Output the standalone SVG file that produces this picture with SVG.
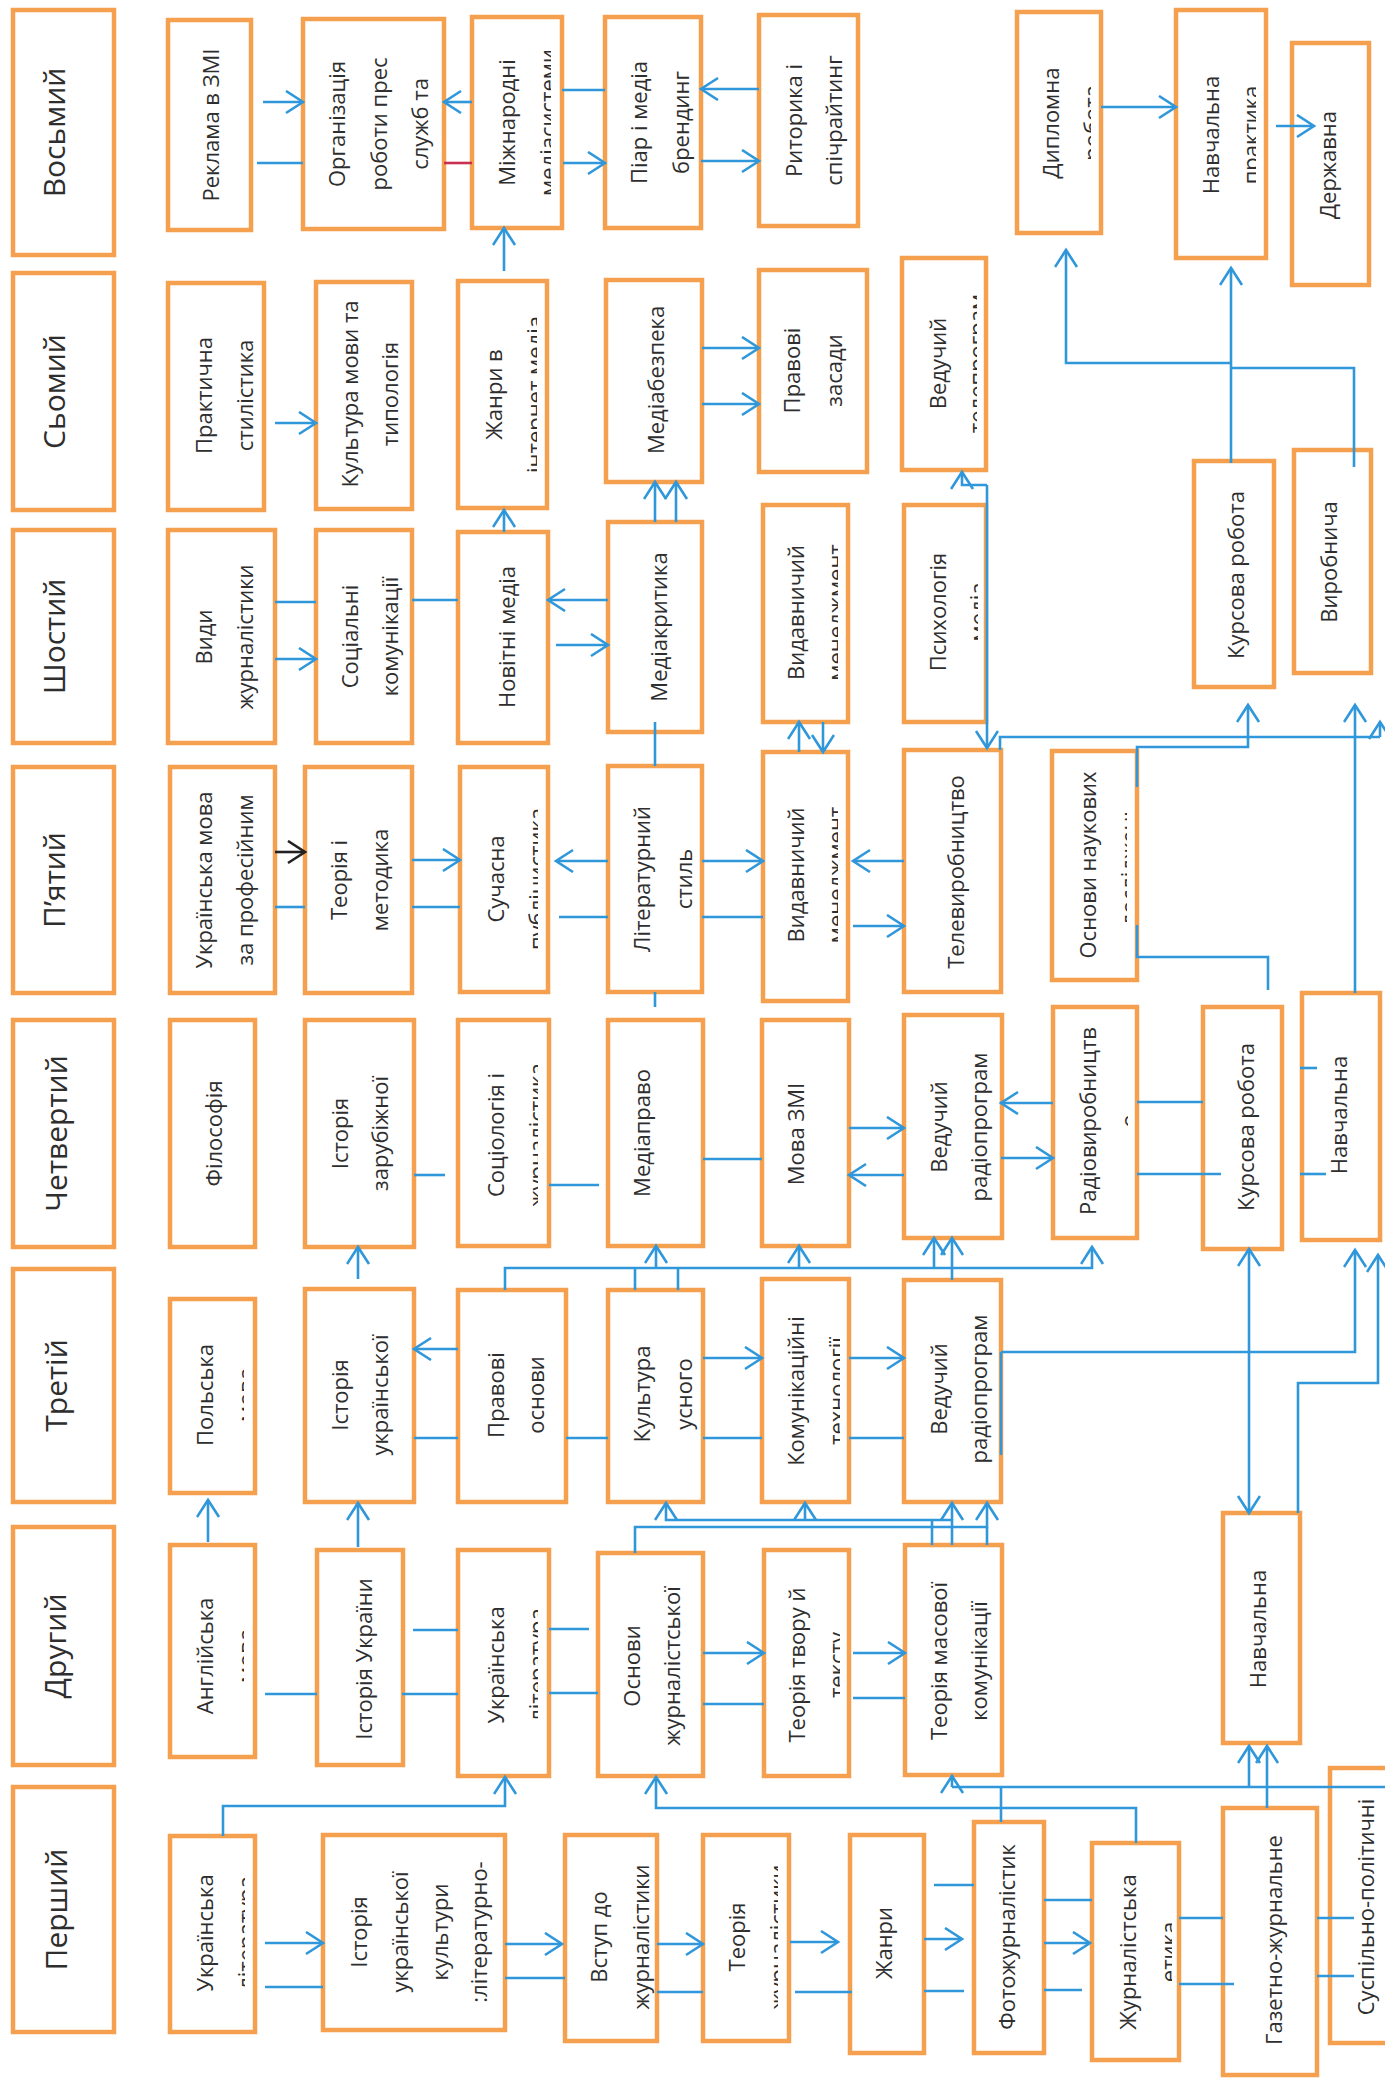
<svg xmlns="http://www.w3.org/2000/svg" width="1385" height="2078" viewBox="0 0 1385 2078">
<style>
.b{fill:#fff;stroke:#F5A04E;stroke-width:4.5}
.t{font-family:"Open Sans","Noto Sans","DejaVu Sans",sans-serif;font-size:22px;fill:#2e2e2e;text-anchor:middle}
.s{font-size:30px}
.c{fill:none;stroke:#2F97DA;stroke-width:2.6}
.r{fill:none;stroke:#C8304F;stroke-width:2.6}
.k{fill:none;stroke:#222;stroke-width:2.6}
</style>
<defs>
<marker id="a" markerUnits="userSpaceOnUse" markerWidth="22" markerHeight="26" refX="18" refY="12" orient="auto"><path d="M1,1 L18,12 L1,23" fill="none" stroke="#2F97DA" stroke-width="2.6"/></marker>
<marker id="ak" markerUnits="userSpaceOnUse" markerWidth="22" markerHeight="26" refX="18" refY="12" orient="auto"><path d="M1,1 L18,12 L1,23" fill="none" stroke="#222" stroke-width="2.6"/></marker>
<clipPath id="k3"><rect x="472" y="17" width="79" height="211"/></clipPath>
<clipPath id="k6"><rect x="1017" y="12" width="74" height="221"/></clipPath>
<clipPath id="k7"><rect x="1176" y="10" width="80" height="248"/></clipPath>
<clipPath id="k11"><rect x="458" y="281" width="79" height="227"/></clipPath>
<clipPath id="k14"><rect x="902" y="258" width="75" height="212"/></clipPath>
<clipPath id="k21"><rect x="763" y="505" width="75" height="217"/></clipPath>
<clipPath id="k22"><rect x="904" y="505" width="74" height="217"/></clipPath>
<clipPath id="k25"><rect x="460" y="767" width="78" height="225"/></clipPath>
<clipPath id="k27"><rect x="763" y="752" width="75" height="249"/></clipPath>
<clipPath id="k29"><rect x="1052" y="751" width="75" height="229"/></clipPath>
<clipPath id="k32"><rect x="458" y="1020" width="80" height="226"/></clipPath>
<clipPath id="k36"><rect x="1053" y="1007" width="75" height="231"/></clipPath>
<clipPath id="k39"><rect x="170" y="1299" width="74" height="194"/></clipPath>
<clipPath id="k43"><rect x="762" y="1279" width="78" height="223"/></clipPath>
<clipPath id="k45"><rect x="170" y="1545" width="74" height="212"/></clipPath>
<clipPath id="k47"><rect x="458" y="1550" width="80" height="226"/></clipPath>
<clipPath id="k49"><rect x="764" y="1550" width="76" height="226"/></clipPath>
<clipPath id="k52"><rect x="170" y="1836" width="75" height="196"/></clipPath>
<clipPath id="k55"><rect x="703" y="1835" width="75" height="206"/></clipPath>
<clipPath id="k58"><rect x="1092" y="1843" width="80" height="217"/></clipPath>
</defs>
<rect width="1385" height="2078" fill="#fff"/>

<g id="sem8"><rect class="b" x="13" y="10" width="101" height="245"/><text class="t s" transform="translate(0 132.5) rotate(-90)"><tspan x="0" y="65">Восьмий</tspan></text></g>
<g id="sem7"><rect class="b" x="13" y="273" width="101" height="237"/><text class="t s" transform="translate(0 391.5) rotate(-90)"><tspan x="0" y="65">Сьомий</tspan></text></g>
<g id="sem6"><rect class="b" x="13" y="530" width="101" height="213"/><text class="t s" transform="translate(0 636.5) rotate(-90)"><tspan x="0" y="65">Шостий</tspan></text></g>
<g id="sem5"><rect class="b" x="13" y="767" width="101" height="226"/><text class="t s" transform="translate(0 880) rotate(-90)"><tspan x="0" y="65">П’ятий</tspan></text></g>
<g id="sem4"><rect class="b" x="13" y="1020" width="101" height="227"/><text class="t s" transform="translate(0 1133.5) rotate(-90)"><tspan x="0" y="67">Четвертий</tspan></text></g>
<g id="sem3"><rect class="b" x="13" y="1269" width="101" height="233"/><text class="t s" transform="translate(0 1385.5) rotate(-90)"><tspan x="0" y="67">Третій</tspan></text></g>
<g id="sem2"><rect class="b" x="13" y="1527" width="101" height="238"/><text class="t s" transform="translate(0 1646) rotate(-90)"><tspan x="0" y="66">Другий</tspan></text></g>
<g id="sem1"><rect class="b" x="13" y="1787" width="101" height="245"/><text class="t s" transform="translate(0 1909.5) rotate(-90)"><tspan x="0" y="67">Перший</tspan></text></g>

<g id="n1"><rect class="b" x="168" y="20" width="83" height="210"/><text class="t" transform="translate(0 125) rotate(-90)"><tspan x="0" y="219">Реклама в ЗМІ</tspan></text></g>
<g id="n2"><rect class="b" x="303" y="19" width="141" height="210"/><text class="t" transform="translate(0 124) rotate(-90)"><tspan x="0" y="345">Організація</tspan><tspan x="0" y="387">роботи прес</tspan><tspan x="0" y="428">служб та</tspan></text></g>
<g id="n3"><rect class="b" x="472" y="17" width="90" height="211"/><g clip-path="url(#k3)"><text class="t" transform="translate(0 122.5) rotate(-90)"><tspan x="0" y="515">Міжнародні</tspan><tspan x="0" y="556">медіасистеми</tspan></text></g></g>
<g id="n4"><rect class="b" x="605" y="17" width="96" height="211"/><text class="t" transform="translate(0 122.5) rotate(-90)"><tspan x="0" y="647">Піар і медіа</tspan><tspan x="0" y="689">брендинг</tspan></text></g>
<g id="n5"><rect class="b" x="759" y="15" width="99" height="211"/><text class="t" transform="translate(0 120.5) rotate(-90)"><tspan x="0" y="802">Риторика і</tspan><tspan x="0" y="842">спічрайтинг</tspan></text></g>
<g id="n6"><rect class="b" x="1017" y="12" width="84" height="221"/><g clip-path="url(#k6)"><text class="t" transform="translate(0 123) rotate(-90)"><tspan x="0" y="1059">Дипломна</tspan><tspan x="0" y="1100">робота</tspan></text></g></g>
<g id="n7"><rect class="b" x="1176" y="10" width="90" height="248"/><g clip-path="url(#k7)"><text class="t" transform="translate(0 135) rotate(-90)"><tspan x="0" y="1219">Навчальна</tspan><tspan x="0" y="1259">практика</tspan></text></g></g>
<g id="n8"><rect class="b" x="1292" y="43" width="77" height="242"/><text class="t" transform="translate(0 165) rotate(-90)"><tspan x="0" y="1336">Державна</tspan></text></g>

<g id="n9"><rect class="b" x="168" y="283" width="96" height="227"/><text class="t" transform="translate(0 395.5) rotate(-90)"><tspan x="0" y="212">Практична</tspan><tspan x="0" y="253">стилістика</tspan></text></g>
<g id="n10"><rect class="b" x="316" y="282" width="96" height="227"/><text class="t" transform="translate(0 394) rotate(-90)"><tspan x="0" y="358">Культура мови та</tspan><tspan x="0" y="398">типологія</tspan></text></g>
<g id="n11"><rect class="b" x="458" y="281" width="89" height="227"/><g clip-path="url(#k11)"><text class="t" transform="translate(0 394.5) rotate(-90)"><tspan x="0" y="502">Жанри в</tspan><tspan x="0" y="543">інтернет медіа</tspan></text></g></g>
<g id="n12"><rect class="b" x="606" y="280" width="96" height="202"/><text class="t" transform="translate(0 380) rotate(-90)"><tspan x="0" y="664">Медіабезпека</tspan></text></g>
<g id="n13"><rect class="b" x="759" y="270" width="108" height="202"/><text class="t" transform="translate(0 370.5) rotate(-90)"><tspan x="0" y="800">Правові</tspan><tspan x="0" y="842">засади</tspan></text></g>
<g id="n14"><rect class="b" x="902" y="258" width="84" height="212"/><g clip-path="url(#k14)"><text class="t" transform="translate(0 363.5) rotate(-90)"><tspan x="0" y="946">Ведучий</tspan><tspan x="0" y="985">телепрограм</tspan></text></g></g>
<g id="n15"><rect class="b" x="1194" y="461" width="80" height="226"/><text class="t" transform="translate(0 575) rotate(-90)"><tspan x="0" y="1244">Курсова робота</tspan></text></g>
<g id="n16"><rect class="b" x="1294" y="450" width="77" height="223"/><text class="t" transform="translate(0 562) rotate(-90)"><tspan x="0" y="1337">Виробнича</tspan></text></g>

<g id="n17"><rect class="b" x="168" y="530" width="107" height="213"/><text class="t" transform="translate(0 637) rotate(-90)"><tspan x="0" y="212">Види</tspan><tspan x="0" y="253">журналістики</tspan></text></g>
<g id="n18"><rect class="b" x="316" y="530" width="96" height="213"/><text class="t" transform="translate(0 636.5) rotate(-90)"><tspan x="0" y="358">Соціальні</tspan><tspan x="0" y="398">комунікації</tspan></text></g>
<g id="n19"><rect class="b" x="458" y="532" width="90" height="211"/><text class="t" transform="translate(0 637) rotate(-90)"><tspan x="0" y="515">Новітні медіа</tspan></text></g>
<g id="n20"><rect class="b" x="608" y="522" width="94" height="210"/><text class="t" transform="translate(0 627) rotate(-90)"><tspan x="0" y="667">Медіакритика</tspan></text></g>
<g id="n21"><rect class="b" x="763" y="505" width="85" height="217"/><g clip-path="url(#k21)"><text class="t" transform="translate(0 612.5) rotate(-90)"><tspan x="0" y="804">Видавничий</tspan><tspan x="0" y="844">менеджмент</tspan></text></g></g>
<g id="n22"><rect class="b" x="904" y="505" width="82" height="217"/><g clip-path="url(#k22)"><text class="t" transform="translate(0 612) rotate(-90)"><tspan x="0" y="946">Психологія</tspan><tspan x="0" y="986">медіа</tspan></text></g></g>

<g id="n23"><rect class="b" x="170" y="767" width="105" height="226"/><text class="t" transform="translate(0 880) rotate(-90)"><tspan x="0" y="212">Українська мова</tspan><tspan x="0" y="253">за професійним</tspan></text></g>
<g id="n24"><rect class="b" x="305" y="767" width="107" height="226"/><text class="t" transform="translate(0 880) rotate(-90)"><tspan x="0" y="347">Теорія і</tspan><tspan x="0" y="388">методика</tspan></text></g>
<g id="n25"><rect class="b" x="460" y="767" width="88" height="225"/><g clip-path="url(#k25)"><text class="t" transform="translate(0 879) rotate(-90)"><tspan x="0" y="504">Сучасна</tspan><tspan x="0" y="545">публіцистика</tspan></text></g></g>
<g id="n26"><rect class="b" x="608" y="766" width="94" height="226"/><text class="t" transform="translate(0 879) rotate(-90)"><tspan x="0" y="650">Літературний</tspan><tspan x="0" y="692">стиль</tspan></text></g>
<g id="n27"><rect class="b" x="763" y="752" width="85" height="249"/><g clip-path="url(#k27)"><text class="t" transform="translate(0 875) rotate(-90)"><tspan x="0" y="804">Видавничий</tspan><tspan x="0" y="844">менеджмент</tspan></text></g></g>
<g id="n28"><rect class="b" x="904" y="750" width="97" height="242"/><text class="t" transform="translate(0 872) rotate(-90)"><tspan x="0" y="964">Телевиробництво</tspan></text></g>
<g id="n29"><rect class="b" x="1052" y="751" width="85" height="229"/><g clip-path="url(#k29)"><text class="t" transform="translate(0 865) rotate(-90)"><tspan x="0" y="1096">Основи наукових</tspan><tspan x="0" y="1137">досліджень</tspan></text></g></g>

<g id="n30"><rect class="b" x="170" y="1020" width="85" height="227"/><text class="t" transform="translate(0 1133.5) rotate(-90)"><tspan x="0" y="222">Філософія</tspan></text></g>
<g id="n31"><rect class="b" x="305" y="1020" width="109" height="227"/><text class="t" transform="translate(0 1133.5) rotate(-90)"><tspan x="0" y="348">Історія</tspan><tspan x="0" y="388">зарубіжної</tspan></text></g>
<g id="n32"><rect class="b" x="458" y="1020" width="91" height="226"/><g clip-path="url(#k32)"><text class="t" transform="translate(0 1135) rotate(-90)"><tspan x="0" y="504">Соціологія і</tspan><tspan x="0" y="545">журналістика</tspan></text></g></g>
<g id="n33"><rect class="b" x="608" y="1020" width="95" height="226"/><text class="t" transform="translate(0 1133) rotate(-90)"><tspan x="0" y="650">Медіаправо</tspan></text></g>
<g id="n34"><rect class="b" x="762" y="1020" width="87" height="226"/><text class="t" transform="translate(0 1134) rotate(-90)"><tspan x="0" y="804">Мова ЗМІ</tspan></text></g>
<g id="n35"><rect class="b" x="904" y="1015" width="98" height="223"/><text class="t" transform="translate(0 1127) rotate(-90)"><tspan x="0" y="947">Ведучий</tspan><tspan x="0" y="987">радіопрограм</tspan></text></g>
<g id="n36"><rect class="b" x="1053" y="1007" width="84" height="231"/><g clip-path="url(#k36)"><text class="t" transform="translate(0 1121) rotate(-90)"><tspan x="0" y="1096">Радіовиробництв</tspan><tspan x="0" y="1137">о</tspan></text></g></g>
<g id="n37"><rect class="b" x="1203" y="1007" width="79" height="242"/><text class="t" transform="translate(0 1127) rotate(-90)"><tspan x="0" y="1254">Курсова робота</tspan></text></g>
<g id="n38"><rect class="b" x="1302" y="993" width="78" height="247"/><text class="t" transform="translate(0 1115) rotate(-90)"><tspan x="0" y="1347">Навчальна</tspan></text></g>

<g id="n39"><rect class="b" x="170" y="1299" width="85" height="194"/><g clip-path="url(#k39)"><text class="t" transform="translate(0 1395) rotate(-90)"><tspan x="0" y="213">Польська</tspan><tspan x="0" y="254">мова</tspan></text></g></g>
<g id="n40"><rect class="b" x="305" y="1289" width="109" height="213"/><text class="t" transform="translate(0 1395) rotate(-90)"><tspan x="0" y="348">Історія</tspan><tspan x="0" y="388">української</tspan></text></g>
<g id="n41"><rect class="b" x="458" y="1290" width="108" height="212"/><text class="t" transform="translate(0 1395) rotate(-90)"><tspan x="0" y="504">Правові</tspan><tspan x="0" y="544">основи</tspan></text></g>
<g id="n42"><rect class="b" x="608" y="1290" width="95" height="212"/><text class="t" transform="translate(0 1394) rotate(-90)"><tspan x="0" y="650">Культура</tspan><tspan x="0" y="692">усного</tspan></text></g>
<g id="n43"><rect class="b" x="762" y="1279" width="87" height="223"/><g clip-path="url(#k43)"><text class="t" transform="translate(0 1391) rotate(-90)"><tspan x="0" y="804">Комунікаційні</tspan><tspan x="0" y="845">технології</tspan></text></g></g>
<g id="n44"><rect class="b" x="904" y="1280" width="97" height="222"/><text class="t" transform="translate(0 1389) rotate(-90)"><tspan x="0" y="947">Ведучий</tspan><tspan x="0" y="987">радіопрограм</tspan></text></g>

<g id="n45"><rect class="b" x="170" y="1545" width="85" height="212"/><g clip-path="url(#k45)"><text class="t" transform="translate(0 1656) rotate(-90)"><tspan x="0" y="213">Англійська</tspan><tspan x="0" y="254">мова</tspan></text></g></g>
<g id="n46"><rect class="b" x="317" y="1550" width="86" height="215"/><text class="t" transform="translate(0 1659) rotate(-90)"><tspan x="0" y="372">Історія України</tspan></text></g>
<g id="n47"><rect class="b" x="458" y="1550" width="91" height="226"/><g clip-path="url(#k47)"><text class="t" transform="translate(0 1665) rotate(-90)"><tspan x="0" y="504">Українська</tspan><tspan x="0" y="545">література</tspan></text></g></g>
<g id="n48"><rect class="b" x="598" y="1553" width="105" height="223"/><text class="t" transform="translate(0 1666) rotate(-90)"><tspan x="0" y="640">Основи</tspan><tspan x="0" y="680">журналістської</tspan></text></g>
<g id="n49"><rect class="b" x="764" y="1550" width="85" height="226"/><g clip-path="url(#k49)"><text class="t" transform="translate(0 1665) rotate(-90)"><tspan x="0" y="805">Теорія твору й</tspan><tspan x="0" y="845">тексту</tspan></text></g></g>
<g id="n50"><rect class="b" x="905" y="1545" width="97" height="230"/><text class="t" transform="translate(0 1661) rotate(-90)"><tspan x="0" y="947">Теорія масової</tspan><tspan x="0" y="987">комунікації</tspan></text></g>
<g id="n51"><rect class="b" x="1223" y="1513" width="77" height="230"/><text class="t" transform="translate(0 1629) rotate(-90)"><tspan x="0" y="1266">Навчальна</tspan></text></g>

<g id="n52"><rect class="b" x="170" y="1836" width="85" height="196"/><g clip-path="url(#k52)"><text class="t" transform="translate(0 1933) rotate(-90)"><tspan x="0" y="213">Українська</tspan><tspan x="0" y="254">література</tspan></text></g></g>
<g id="n53"><rect class="b" x="323" y="1835" width="182" height="195"/><text class="t" transform="translate(0 1932) rotate(-90)"><tspan x="0" y="367">Історія</tspan><tspan x="0" y="408">української</tspan><tspan x="0" y="448">культури</tspan><tspan x="0" y="487">:літературно-</tspan></text></g>
<g id="n54"><rect class="b" x="565" y="1835" width="92" height="206"/><text class="t" transform="translate(0 1937) rotate(-90)"><tspan x="0" y="607">Вступ до</tspan><tspan x="0" y="649">журналістики</tspan></text></g>
<g id="n55"><rect class="b" x="703" y="1835" width="86" height="206"/><g clip-path="url(#k55)"><text class="t" transform="translate(0 1937) rotate(-90)"><tspan x="0" y="745">Теорія</tspan><tspan x="0" y="786">журналістики</tspan></text></g></g>
<g id="n56"><rect class="b" x="850" y="1835" width="74" height="218"/><text class="t" transform="translate(0 1943) rotate(-90)"><tspan x="0" y="892">Жанри</tspan></text></g>
<g id="n57"><rect class="b" x="974" y="1822" width="70" height="231"/><text class="t" transform="translate(0 1937) rotate(-90)"><tspan x="0" y="1015">Фотожурналістик</tspan></text></g>
<g id="n58"><rect class="b" x="1092" y="1843" width="87" height="217"/><g clip-path="url(#k58)"><text class="t" transform="translate(0 1952) rotate(-90)"><tspan x="0" y="1136">Журналістська</tspan><tspan x="0" y="1177">етика</tspan></text></g></g>
<g id="n59"><rect class="b" x="1223" y="1808" width="94" height="267"/><text class="t" transform="translate(0 1940) rotate(-90)"><tspan x="0" y="1282">Газетно-журнальне</tspan></text></g>
<g id="n60"><rect class="b" x="1330" y="1768" width="70" height="275"/><text class="t" transform="translate(0 1907) rotate(-90)"><tspan x="0" y="1374">Суспільно-політичні</tspan></text></g>

<g id="connectors">
<path class="c" d="M263,102 H303" marker-end="url(#a)"/>
<path class="c" d="M257,163 H303"/>
<path class="c" d="M472,102 H444" marker-end="url(#a)"/>
<path class="r" d="M444,163 H472"/>
<path class="c" d="M562,90 H605"/>
<path class="c" d="M563,163 H605" marker-end="url(#a)"/>
<path class="c" d="M759,89 H701" marker-end="url(#a)"/>
<path class="c" d="M701,161 H759" marker-end="url(#a)"/>
<path class="c" d="M1101,107 H1176" marker-end="url(#a)"/>
<path class="c" d="M1276,126 H1314" marker-end="url(#a)"/>
<path class="c" d="M275,423 H316" marker-end="url(#a)"/>
<path class="c" d="M504,271 V228" marker-end="url(#a)"/>
<path class="c" d="M702,348 H759" marker-end="url(#a)"/>
<path class="c" d="M702,404 H759" marker-end="url(#a)"/>
<path class="c" d="M655,522 V482" marker-end="url(#a)"/>
<path class="c" d="M676,522 V482" marker-end="url(#a)"/>
<path class="c" d="M504,532 V510" marker-end="url(#a)"/>
<path class="c" d="M1231,463 V268" marker-end="url(#a)"/>
<path class="c" d="M1231,363 H1066 V250" marker-end="url(#a)"/>
<path class="c" d="M1231,368 H1354 V467"/>
<path class="c" d="M987,485 V748" marker-end="url(#a)"/>
<path class="c" d="M987,485 H962 V472" marker-end="url(#a)"/>
<path class="c" d="M275,602 H316"/>
<path class="c" d="M275,659 H316" marker-end="url(#a)"/>
<path class="c" d="M412,600 H458"/>
<path class="c" d="M608,600 H548" marker-end="url(#a)"/>
<path class="c" d="M556,645 H608" marker-end="url(#a)"/>
<path class="c" d="M655,722 V766"/>
<path class="c" d="M799,752 V722" marker-end="url(#a)"/>
<path class="c" d="M823,722 V752" marker-end="url(#a)"/>
<path class="k" d="M275,852 H305" marker-end="url(#ak)"/>
<path class="c" d="M275,907 H305"/>
<path class="c" d="M412,860 H460" marker-end="url(#a)"/>
<path class="c" d="M412,907 H460"/>
<path class="c" d="M608,861 H556" marker-end="url(#a)"/>
<path class="c" d="M559,917 H608"/>
<path class="c" d="M702,861 H763" marker-end="url(#a)"/>
<path class="c" d="M702,917 H763"/>
<path class="c" d="M904,861 H853" marker-end="url(#a)"/>
<path class="c" d="M853,926 H904" marker-end="url(#a)"/>
<path class="c" d="M655,992 V1007"/>
<path class="c" d="M1000,750 V737 H1380"/>
<path class="c" d="M1380,737 V722" marker-end="url(#a)"/>
<path class="c" d="M1137,787 V747 H1248 V705" marker-end="url(#a)"/>
<path class="c" d="M1137,925 V957 H1268 V990"/>
<path class="c" d="M1355,993 V705" marker-end="url(#a)"/>
<path class="c" d="M358,1279 V1247" marker-end="url(#a)"/>
<path class="c" d="M414,1175 H445"/>
<path class="c" d="M549,1185 H599"/>
<path class="c" d="M703,1159 H762"/>
<path class="c" d="M849,1128 H904" marker-end="url(#a)"/>
<path class="c" d="M904,1175 H849" marker-end="url(#a)"/>
<path class="c" d="M1053,1103 H1001" marker-end="url(#a)"/>
<path class="c" d="M1001,1158 H1053" marker-end="url(#a)"/>
<path class="c" d="M1137,1102 H1203"/>
<path class="c" d="M1137,1174 H1221"/>
<path class="c" d="M1300,1068 H1317"/>
<path class="c" d="M1300,1174 H1326"/>
<path class="c" d="M505,1290 V1268 H1092 V1247" marker-end="url(#a)"/>
<path class="c" d="M635,1290 V1268"/>
<path class="c" d="M678,1290 V1268"/>
<path class="c" d="M656,1268 V1246" marker-end="url(#a)"/>
<path class="c" d="M799,1268 V1246" marker-end="url(#a)"/>
<path class="c" d="M934,1268 V1238" marker-end="url(#a)"/>
<path class="c" d="M952,1280 V1238" marker-end="url(#a)"/>
<path class="c" d="M1249,1380 V1249" marker-end="url(#a)"/>
<path class="c" d="M1249,1380 V1513" marker-end="url(#a)"/>
<path class="c" d="M1001,1352 H1355 V1250" marker-end="url(#a)"/>
<path class="c" d="M1001,1352 V1455"/>
<path class="c" d="M1298,1513 V1383 H1378 V1255" marker-end="url(#a)"/>
<path class="c" d="M208,1542 V1500" marker-end="url(#a)"/>
<path class="c" d="M358,1547 V1503" marker-end="url(#a)"/>
<path class="c" d="M458,1349 H414" marker-end="url(#a)"/>
<path class="c" d="M414,1438 H458"/>
<path class="c" d="M566,1438 H608"/>
<path class="c" d="M703,1358 H762" marker-end="url(#a)"/>
<path class="c" d="M703,1438 H762"/>
<path class="c" d="M849,1358 H904" marker-end="url(#a)"/>
<path class="c" d="M849,1438 H904"/>
<path class="c" d="M952,1520 H666 V1503" marker-end="url(#a)"/>
<path class="c" d="M805,1520 V1503" marker-end="url(#a)"/>
<path class="c" d="M952,1545 V1503" marker-end="url(#a)"/>
<path class="c" d="M932,1520 V1545"/>
<path class="c" d="M635,1553 V1527 H987 V1503" marker-end="url(#a)"/>
<path class="c" d="M987,1527 V1545"/>
<path class="c" d="M265,1694 H317"/>
<path class="c" d="M413,1630 H458"/>
<path class="c" d="M402,1694 H458"/>
<path class="c" d="M549,1629 H589"/>
<path class="c" d="M549,1693 H598"/>
<path class="c" d="M703,1653 H764" marker-end="url(#a)"/>
<path class="c" d="M703,1704 H764"/>
<path class="c" d="M853,1653 H905" marker-end="url(#a)"/>
<path class="c" d="M853,1698 H905"/>
<path class="c" d="M223,1836 V1806 H505 V1777" marker-end="url(#a)"/>
<path class="c" d="M1136,1843 V1808 H656 V1777" marker-end="url(#a)"/>
<path class="c" d="M952,1787 H1385"/>
<path class="c" d="M952,1787 V1776" marker-end="url(#a)"/>
<path class="c" d="M1001,1822 V1787"/>
<path class="c" d="M1249,1787 V1746" marker-end="url(#a)"/>
<path class="c" d="M1267,1808 V1746" marker-end="url(#a)"/>
<path class="c" d="M265,1943 H323" marker-end="url(#a)"/>
<path class="c" d="M265,1987 H323"/>
<path class="c" d="M505,1944 H562" marker-end="url(#a)"/>
<path class="c" d="M505,1978 H565"/>
<path class="c" d="M657,1944 H703" marker-end="url(#a)"/>
<path class="c" d="M657,1992 H703"/>
<path class="c" d="M790,1942 H838" marker-end="url(#a)"/>
<path class="c" d="M795,1992 H852"/>
<path class="c" d="M934,1885 H974"/>
<path class="c" d="M924,1939 H962" marker-end="url(#a)"/>
<path class="c" d="M924,1991 H964"/>
<path class="c" d="M1044,1900 H1092"/>
<path class="c" d="M1044,1943 H1090" marker-end="url(#a)"/>
<path class="c" d="M1044,1990 H1082"/>
<path class="c" d="M1179,1918 H1223"/>
<path class="c" d="M1179,1984 H1234"/>
<path class="c" d="M1317,1918 H1354"/>
<path class="c" d="M1317,1976 H1354"/>
</g>
</svg>
